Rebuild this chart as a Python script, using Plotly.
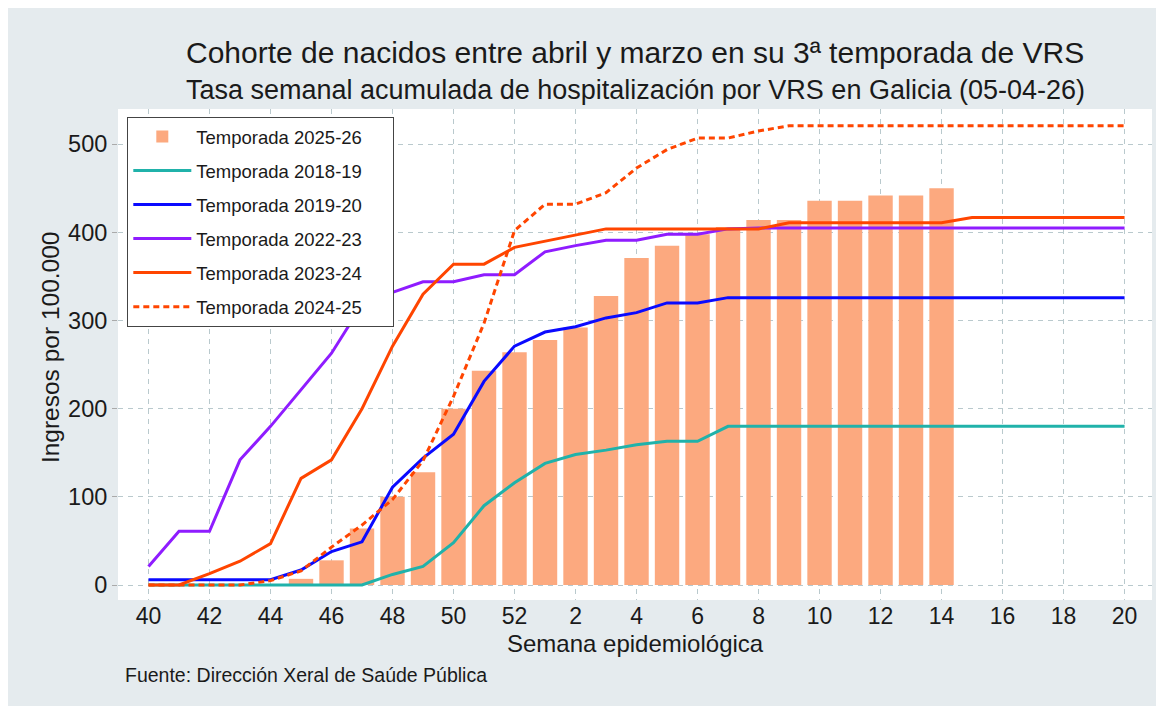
import plotly.graph_objects as go

weeks = [str(w) for w in list(range(40, 53)) + list(range(1, 21))]
tick_weeks = [str(w) for w in [40, 42, 44, 46, 48, 50, 52, 2, 4, 6, 8, 10, 12, 14, 16, 18, 20]]

# Temporada 2025-26 (bars) weeks 40..14
bar_weeks = weeks[:27]
s2025_26 = [0, 0, 0, 0, 0, 7, 28, 64, 100, 128, 200, 243, 264, 278, 292, 328, 371, 385, 398, 406, 414, 414, 436, 436, 442, 442, 450]

s2018_19 = [0, 0, 0, 0, 0, 0, 0, 0, 12, 21, 48, 90, 116, 138, 148, 153, 159, 163, 163, 180,
            180, 180, 180, 180, 180, 180, 180, 180, 180, 180, 180, 180, 180]
s2019_20 = [6, 6, 6, 6, 6, 17, 38, 49, 111, 144, 171, 231, 271, 287, 293, 303, 309, 320, 320, 326,
            326, 326, 326, 326, 326, 326, 326, 326, 326, 326, 326, 326, 326]
s2022_23 = [21, 61, 61, 142, 180, 221, 263, 318, 332, 344, 344, 352, 352, 378, 385, 391, 391, 398, 398, 404,
            405, 405, 405, 405, 405, 405, 405, 405, 405, 405, 405, 405, 405]
s2023_24 = [0, 0, 13, 27, 47, 121, 142, 200, 271, 330, 364, 364, 383, 390, 397, 404, 404, 404, 404, 404,
            404, 411, 411, 411, 411, 411, 411, 417, 417, 417, 417, 417, 417]
s2024_25 = [0, 0, 0, 0, 5, 16, 43, 68, 97, 141, 214, 297, 402, 432, 432, 445, 473, 494, 507, 507,
            515, 521, 521, 521, 521, 521, 521, 521, 521, 521, 521, 521, 521]

FONT = "Liberation Sans, Arial, sans-serif"
BG = "#e5ebee"
GRID = "#b9c9cd"
TXT = "#1a1a1a"
PAD = "\u00a0" * 5

fig = go.Figure()
fig.add_trace(go.Bar(x=bar_weeks, y=s2025_26, name="Temporada 2025-26" + PAD,
                     marker=dict(color="#fca97f", line=dict(width=0)), width=0.8,
                     legendgroup="g0"))
lines = [
    ("Temporada 2018-19", s2018_19, "#20b2aa", "solid"),
    ("Temporada 2019-20", s2019_20, "#0a0aff", "solid"),
    ("Temporada 2022-23", s2022_23, "#8f1cff", "solid"),
    ("Temporada 2023-24", s2023_24, "#ff4500", "solid"),
    ("Temporada 2024-25", s2024_25, "#ff4500", "6px,4px"),
]
for i, (name, vals, col, dash) in enumerate(lines):
    fig.add_trace(go.Scatter(x=weeks, y=vals, name=name + PAD, mode="lines",
                             line=dict(color=col, width=3, dash=dash),
                             legendgroup=f"g{i+1}"))

fig.update_layout(
    width=1164, height=706,
    margin=dict(l=110, r=20, t=101, b=114),
    paper_bgcolor=BG, plot_bgcolor="white",
    font=dict(family=FONT, color=TXT),
    showlegend=True,
    legend=dict(x=0.009, y=0.984, xanchor="left", yanchor="top",
                bgcolor="white", bordercolor="#444444", borderwidth=1,
                font=dict(size=18.5, family=FONT, color=TXT),
                tracegroupgap=7, traceorder="grouped", itemwidth=58),
    bargap=0.2,
    xaxis=dict(type="category", categoryorder="array", categoryarray=weeks,
               range=[-1, 32.9], tickmode="array", tickvals=tick_weeks, ticktext=tick_weeks,
               showgrid=True, gridcolor=GRID, griddash="5px,5px", gridwidth=1,
               zeroline=False, showline=False, ticks="",
               tickfont=dict(size=23, family=FONT, color=TXT)),
    yaxis=dict(range=[-17, 540], tickvals=[0, 100, 200, 300, 400, 500],
               showgrid=True, gridcolor=GRID, griddash="5px,5px", gridwidth=1,
               zeroline=False, showline=False, ticks="outside", ticklen=5, tickcolor="#aaaaaa",
               tickfont=dict(size=23.5, family=FONT, color=TXT)),
    annotations=[
        dict(text="Cohorte de nacidos entre abril y marzo en su 3ª temporada de VRS",
             xref="paper", yref="paper", x=0.5, y=1.116, xanchor="center", yanchor="middle",
             showarrow=False, font=dict(size=30, family=FONT, color=TXT)),
        dict(text="Tasa semanal acumulada de hospitalización por VRS en Galicia (05-04-26)",
             xref="paper", yref="paper", x=0.5, y=1.039, xanchor="center", yanchor="middle",
             showarrow=False, font=dict(size=27, family=FONT, color=TXT)),
        dict(text="Semana epidemiológica", xref="paper", yref="paper", x=0.5, y=-0.0876,
             xanchor="center", yanchor="middle", showarrow=False,
             font=dict(size=24, family=FONT, color=TXT)),
        dict(text="Ingresos por 100.000", xref="paper", yref="paper", x=-0.0658, y=0.515,
             xanchor="center", yanchor="middle", textangle=-90, showarrow=False,
             font=dict(size=24.5, family=FONT, color=TXT)),
        dict(text="Fuente: Dirección Xeral de Saúde Pública", xref="paper", yref="paper",
             x=0.0048, y=-0.1527, xanchor="left", yanchor="middle", showarrow=False,
             font=dict(size=19.5, family=FONT, color=TXT)),
    ],
)

fig.write_html("out.html")
